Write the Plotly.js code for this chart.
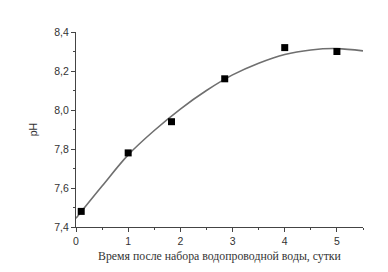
<!DOCTYPE html>
<html>
<head>
<meta charset="utf-8">
<script src="https://cdn.plot.ly/plotly-3.0.1.min.js"></script>
<style>html,body{margin:0;padding:0;background:#fff;}#chart{width:388px;height:272px;}</style>
</head>
<body>
<div id="chart"></div>
<script>
// measured points
var days = [0.1, 1.0, 1.83, 2.85, 4.0, 5.0];
var phValues = [7.48, 7.78, 7.94, 8.16, 8.32, 8.30];
// fitted curve
var fitDays = [0, 0.5, 1, 1.5, 2, 2.5, 3, 3.5, 4, 4.5, 5, 5.5];
var fitPh = [7.445, 7.61, 7.77, 7.895, 8.005, 8.10, 8.18, 8.24, 8.285, 8.308, 8.315, 8.303];
var xTitle = 'Время после набора водопроводной воды, сутки';
var yTitle = 'pH';

var traces = [
  {x: fitDays, y: fitPh, mode: 'lines', type: 'scatter', line: {color: '#6f6f6f', width: 1.6, shape: 'spline'}, hoverinfo: 'skip'},
  {x: days, y: phValues, mode: 'markers', type: 'scatter', marker: {symbol: 'square', size: 7, color: '#000'}}
];
var layout = {
  width: 388, height: 272,
  margin: {l: 76, r: 25, t: 32, b: 45},
  showlegend: false,
  separators: ', ',
  paper_bgcolor: '#fff', plot_bgcolor: '#fff',
  font: {family: 'Liberation Sans, Arial, sans-serif', size: 10, color: '#333'},
  xaxis: {
    range: [0, 5.5], dtick: 1, tick0: 0, showgrid: false, zeroline: false,
    showline: true, linecolor: '#444', linewidth: 1,
    ticks: 'outside', ticklen: 4, tickcolor: '#444',
    minor: {dtick: 0.5, ticks: 'outside', ticklen: 2, tickcolor: '#444'},
    tickfont: {size: 10.5, color: '#333'},
    title: {text: xTitle, font: {family: 'Liberation Serif, Times New Roman, serif', size: 11.8, color: '#333'}, standoff: 6},
    automargin: false
  },
  yaxis: {
    range: [7.4, 8.4], dtick: 0.2, tick0: 7.4, tickformat: '.1f', showgrid: false, zeroline: false,
    showline: true, linecolor: '#444', linewidth: 1,
    ticks: 'outside', ticklen: 4, tickcolor: '#444',
    minor: {dtick: 0.1, ticks: 'outside', ticklen: 2, tickcolor: '#444'},
    tickfont: {size: 10.5, color: '#333'},
    title: {text: yTitle, font: {size: 10.5, color: '#333'}, standoff: 14},
    automargin: false
  }
};
Plotly.newPlot('chart', traces, layout, {staticPlot: true, displayModeBar: false});
</script>
</body>
</html>
